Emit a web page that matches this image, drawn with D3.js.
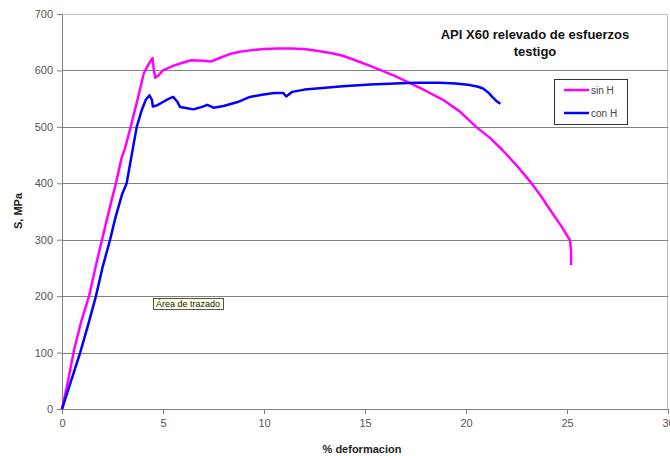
<!DOCTYPE html>
<html>
<head>
<meta charset="utf-8">
<script src="https://cdn.jsdelivr.net/npm/d3@7"></script>
<style>
  body { margin: 0; background: #fff; }
  text { font-family: "Liberation Sans", Arial, sans-serif; }
</style>
</head>
<body>
<div id="chart"></div>
<script>
// sin H curve (strain %, stress MPa)
var strainSinH = [0, 0.3, 0.6, 0.95, 1.34, 1.65, 1.98, 2.25, 2.47, 2.67, 2.95, 3.12, 3.4, 3.75, 4.05, 4.3, 4.48, 4.55, 4.62, 4.8, 5.0, 5.5, 6.0, 6.4, 7.0, 7.4, 7.8, 8.3, 8.8, 9.4, 10.0, 10.7, 11.3, 12.0, 12.6, 13.3, 13.9, 14.75, 15.25, 15.74, 16.5, 17.2, 18.0, 18.86, 19.7, 20.5, 21.2, 21.8, 22.5, 23.2, 23.7, 24.16, 24.7, 25.15, 25.2, 25.2];
var stressSinH = [0, 50, 105, 155, 200, 250, 300, 340, 372, 400, 445, 462, 500, 550, 595, 612, 622, 600, 587, 592, 600, 608, 614, 618, 617, 616, 622, 629, 633, 636, 638, 639, 639, 638, 635, 631, 626, 615, 608, 601, 590, 578, 564, 548, 527, 500, 480, 459, 432, 402, 378, 353, 325, 299, 280, 255];

// con H curve
var strainConH = [0, 0.45, 0.9, 1.3, 1.68, 2.0, 2.38, 2.65, 2.97, 3.2, 3.45, 3.7, 3.95, 4.15, 4.33, 4.45, 4.5, 4.7, 5.0, 5.3, 5.5, 5.7, 5.85, 6.2, 6.5, 6.9, 7.2, 7.5, 8.0, 8.7, 9.3, 9.9, 10.5, 10.95, 11.1, 11.4, 12.0, 12.6, 13.9, 15.25, 16.5, 17.5, 18.7, 19.5, 20.2, 20.6, 20.84, 21.1, 21.3, 21.5, 21.7];
var stressConH = [0, 50, 100, 150, 200, 250, 300, 340, 380, 400, 450, 500, 530, 548, 556, 548, 536, 538, 544, 550, 553, 545, 535, 533, 531, 535, 539, 534, 537, 544, 553, 557, 560, 560, 554, 562, 566, 568, 572, 575, 577, 578, 578, 577, 574, 571, 568, 561, 553, 546, 541];

var xTicks = [0, 5, 10, 15, 20, 25, 30];
var yTicks = [0, 100, 200, 300, 400, 500, 600, 700];

var margin = {top: 14, right: 2, bottom: 47, left: 62},
    width = 670 - margin.left - margin.right,
    height = 456 - margin.top - margin.bottom;

var svg = d3.select("#chart")
  .append("svg")
    .attr("width", 670)
    .attr("height", 456)
  .append("g")
    .attr("transform", "translate(" + margin.left + "," + margin.top + ")");

var x = d3.scaleLinear().domain([0, 30]).range([0, width]);
var y = d3.scaleLinear().domain([0, 700]).range([height, 0]);

// plot border (top and right)
svg.append("path")
  .attr("d", "M0,0.5H" + (width - 0.5) + "V" + height)
  .attr("fill", "none")
  .attr("stroke", "#c0c0c0");

// horizontal grid
svg.selectAll(".hgrid")
  .data(yTicks.filter(function(d) { return d > 0 && d < 700; }))
  .enter().append("line")
    .attr("x1", 0).attr("x2", width)
    .attr("y1", function(d) { return Math.round(y(d)) + 0.5; })
    .attr("y2", function(d) { return Math.round(y(d)) + 0.5; })
    .attr("stroke", "#808080");

// axes
var xAxis = svg.append("g")
  .attr("transform", "translate(0," + height + ")")
  .call(d3.axisBottom(x).tickValues(xTicks).tickSize(5).tickPadding(5));
var yAxis = svg.append("g")
  .call(d3.axisLeft(y).tickValues(yTicks).tickSize(5).tickPadding(4));

[xAxis, yAxis].forEach(function(a) {
  a.select(".domain").attr("stroke", "#808080");
  a.selectAll(".tick line").attr("stroke", "#808080");
  a.selectAll(".tick text")
    .style("font-family", "'Liberation Sans', Arial, sans-serif")
    .style("font-size", "11px")
    .attr("fill", "#555");
});

// lines
var line = d3.line()
  .x(function(d) { return x(d[0]); })
  .y(function(d) { return y(d[1]); });

var sinH = strainSinH.map(function(v, i) { return [v, stressSinH[i]]; });
var conH = strainConH.map(function(v, i) { return [v, stressConH[i]]; });

svg.append("path").datum(sinH)
  .attr("d", line).attr("fill", "none")
  .attr("stroke", "#ff00ff").attr("stroke-width", 2.5)
  .attr("stroke-linejoin", "round");
svg.append("path").datum(conH)
  .attr("d", line).attr("fill", "none")
  .attr("stroke", "#0000ff").attr("stroke-width", 2.5)
  .attr("stroke-linejoin", "round");

// axis titles
svg.append("text")
  .attr("x", width / 2 - 3)
  .attr("y", height + 44)
  .attr("text-anchor", "middle")
  .style("font-size", "11px").style("font-weight", "bold")
  .attr("fill", "#222")
  .text("% deformacion");

svg.append("text")
  .attr("transform", "translate(" + (-40) + "," + (211 - margin.top) + ") rotate(-90)")
  .attr("text-anchor", "middle")
  .style("font-size", "11px").style("font-weight", "bold")
  .attr("fill", "#222")
  .text("S, MPa");

// title
svg.append("text")
  .attr("x", 535 - margin.left).attr("y", 39 - margin.top)
  .attr("text-anchor", "middle")
  .style("font-size", "13px").style("font-weight", "bold")
  .attr("fill", "#111")
  .text("API X60 relevado de esfuerzos");
svg.append("text")
  .attr("x", 535 - margin.left).attr("y", 56 - margin.top)
  .attr("text-anchor", "middle")
  .style("font-size", "13px").style("font-weight", "bold")
  .attr("fill", "#111")
  .text("testigo");

// legend
var legend = svg.append("g").attr("transform", "translate(" + (554 - margin.left) + "," + (79 - margin.top) + ")");
legend.append("rect")
  .attr("x", 0.5).attr("y", 0.5).attr("width", 73).attr("height", 45)
  .attr("fill", "#fff").attr("stroke", "#333");
[["sin H", "#ff00ff"], ["con H", "#0000ff"]].forEach(function(e, i) {
  legend.append("line")
    .attr("x1", 10).attr("x2", 35)
    .attr("y1", 11 + i * 23).attr("y2", 11 + i * 23)
    .attr("stroke", e[1]).attr("stroke-width", 2.5);
  legend.append("text")
    .attr("x", 37).attr("y", 11 + i * 23)
    .attr("dy", "0.35em")
    .style("font-size", "10px")
    .attr("fill", "#444")
    .text(e[0]);
});

// "Área de trazado" hint box
var tip = svg.append("g").attr("transform", "translate(" + (153 - margin.left) + "," + (298 - margin.top) + ")");
tip.append("rect")
  .attr("x", 0.5).attr("y", 0.5).attr("width", 70).attr("height", 11)
  .attr("fill", "#ffffe1").attr("stroke", "#555");
tip.append("text")
  .attr("x", 3).attr("y", 9)
  .style("font-size", "9px")
  .attr("fill", "#222")
  .text("Área de trazado");
</script>
</body>
</html>
